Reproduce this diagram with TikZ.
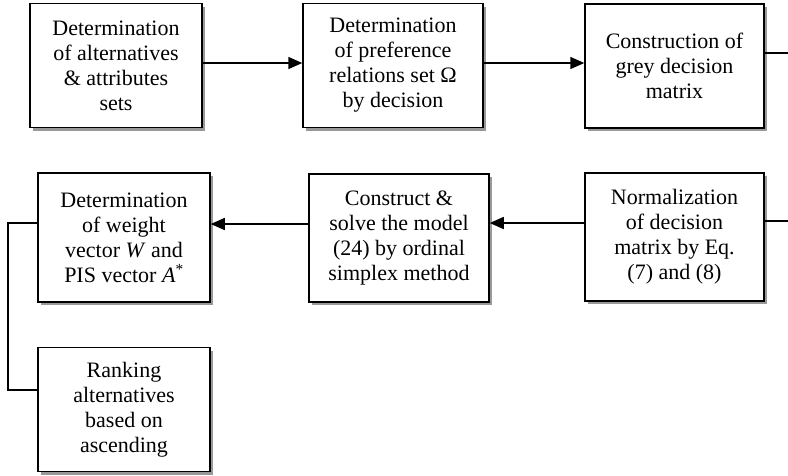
\documentclass[tikz,border=0pt]{standalone}
\usepackage{fontspec}
\setmainfont{Liberation Serif}
\usetikzlibrary{arrows.meta, shadows, positioning}

\begin{document}
\begin{tikzpicture}[x=1pt, y=-1pt,
    stage/.style={draw=black, line width=1.5pt, fill=white, align=center,
        font=\fontsize{22}{25}\selectfont, inner sep=0pt, minimum height=124pt,
        drop shadow={shadow xshift=3pt, shadow yshift=-3pt, fill=black!40, opacity=1}},
    flow/.style={line width=1.5pt, -{Triangle[length=14pt, width=12pt]}},
    link/.style={line width=1.5pt}]
\useasboundingbox (0,0) rectangle (788,475);

% first row
\node[stage, minimum width=172pt] (alt) at (116,65.5) {Determination\\of alternatives\\\& attributes\\sets};
\node[stage, minimum width=180pt] (pref) at (393,65.5) {Determination\\of preference\\relations set Ω\\by decision};
\node[stage, minimum width=179pt] (grey) at (674.5,66) {Construction of\\grey decision\\matrix};

% second row
\node[stage, minimum width=179pt, minimum height=128pt] (norm) at (674.5,237) {Normalization\\of decision\\matrix by Eq.\\(7) and (8)};
\node[stage, minimum width=180pt, minimum height=128pt] (model) at (399,238) {Construct \&\\solve the model\\(24) by ordinal\\simplex method};
\node[stage, minimum width=172pt, minimum height=129pt] (weight) at (124,237.5) {Determination\\of weight\\vector \textit{W} and\\PIS vector \textit{A}\textsuperscript{*}};
\node[stage, minimum width=172pt] (rank) at (124,409.5) {Ranking\\alternatives\\based on\\ascending};

\draw[flow] (alt.east |- 0,63) -- (pref.west |- 0,63);
\draw[flow] (pref.east |- 0,63) -- (grey.west |- 0,63);

\coordinate (outA) at (788,53);
\coordinate (outB) at (788,221);
\draw[link] (grey.east |- outA) -- (outA);
\draw[link] (norm.east |- outB) -- (outB);

\draw[flow] (norm.west |- 0,223) -- (model.east |- 0,223);
\draw[flow] (model.west |- 0,224) -- (weight.east |- 0,224);

\coordinate (bendA) at (8,223);
\coordinate (bendB) at (8,390);
\draw[link] (weight.west |- bendA) -- (bendA) -- (bendB) -- (rank.west |- bendB);

\end{tikzpicture}
\end{document}
